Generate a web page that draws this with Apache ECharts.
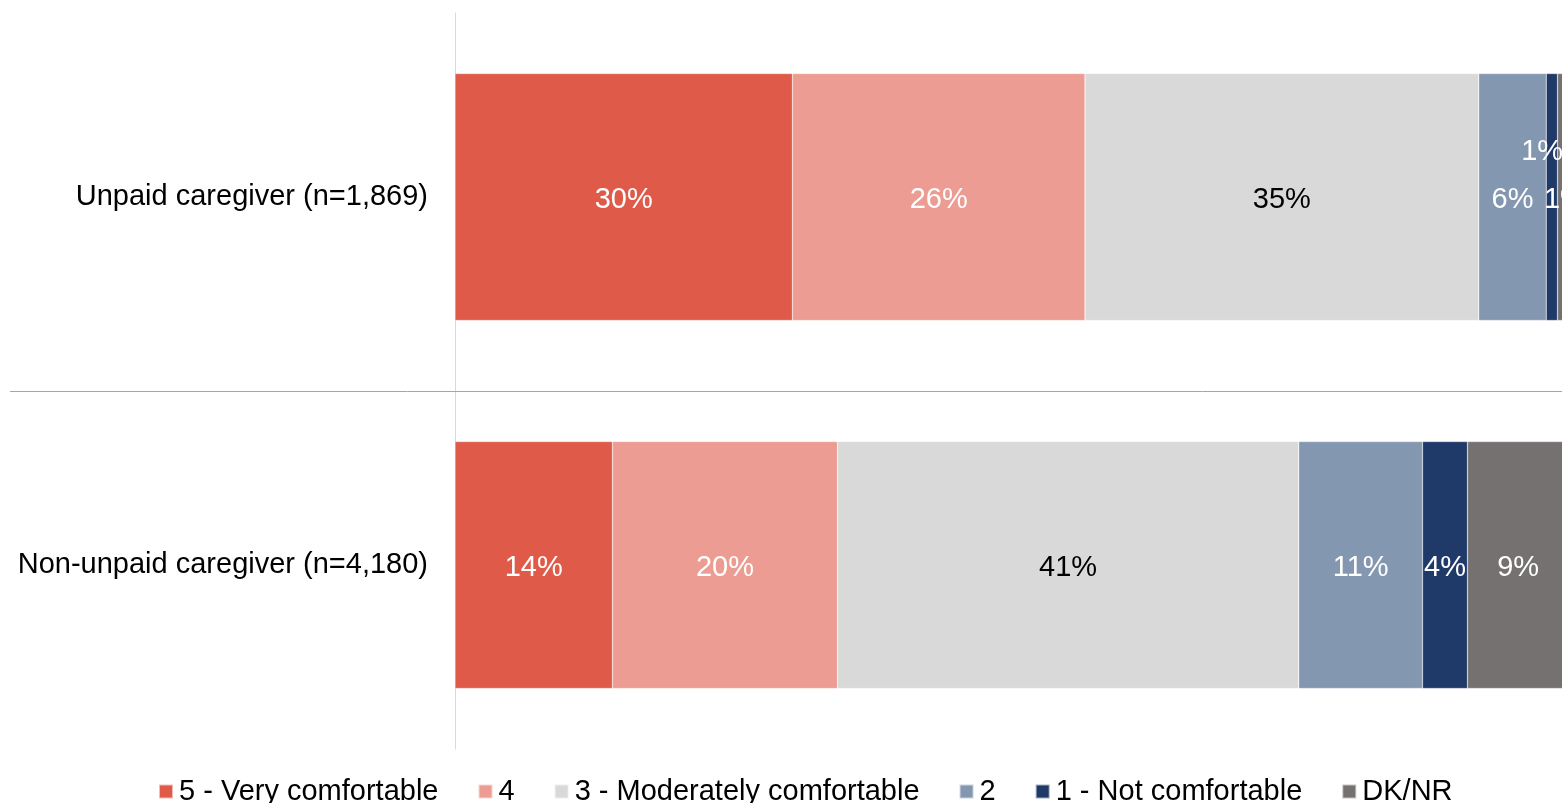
<!DOCTYPE html>
<html>
<head>
<meta charset="utf-8">
<script src="https://cdn.jsdelivr.net/npm/echarts@6/dist/echarts.min.js"></script>
<style>
  html, body { margin: 0; padding: 0; background: #fff; overflow: hidden; }
  #chart { width: 1600px; height: 803px; }
</style>
</head>
<body>
<div id="chart"></div>
<script>
// Comfort level by caregiver status (percent of respondents)
const categories = ['Unpaid caregiver (n=1,869)', 'Non-unpaid caregiver (n=4,180)'];
const seriesNames = ['5 - Very comfortable', '4', '3 - Moderately comfortable', '2', '1 - Not comfortable', 'DK/NR'];
const veryComfortable = [30, 14];
const four = [26, 20];
const moderately = [35, 41];
const two = [6, 11];
const notComfortable = [1, 4];
const dkNr = [1, 9];

const colors = ['#E05A4A', '#EC9C92', '#D9D9D9', '#8497B0', '#1F3968', '#767171'];
const labelColors = ['#fff', '#fff', '#000', '#fff', '#fff', '#fff'];
const values = [veryComfortable, four, moderately, two, notComfortable, dkNr];

// small segments in the first row carry shifted labels
const labelShift = {
  4: { 0: [13, 3] },
  5: { 0: [-21, -45] }
};

const chart = echarts.init(document.getElementById('chart'));
const FONT = 'Liberation Sans, Arial, sans-serif';
const FS = 29;

const series = seriesNames.map((name, i) => ({
  name,
  type: 'bar',
  stack: 'total',
  barWidth: 247,
  itemStyle: { color: colors[i], borderColor: 'rgba(255,255,255,0.6)', borderWidth: 0.5 },
  label: {
    show: true,
    position: 'inside',
    offset: [0, 3],
    color: labelColors[i],
    fontFamily: FONT,
    fontSize: FS,
    formatter: p => p.value + '%'
  },
  data: values[i].map((v, j) => {
    const shift = labelShift[i] && labelShift[i][j];
    return shift ? { value: v, label: { offset: shift } } : v;
  })
}));

chart.setOption({
  animation: false,
  color: colors,
  grid: { left: 455, top: 13, bottom: 54, width: 1125 },
  legend: {
    left: 153,
    top: 772,
    itemWidth: 14,
    itemHeight: 14,
    itemGap: 39,
    icon: 'rect',
    textStyle: { fontFamily: FONT, fontSize: FS, color: '#000', padding: [0, 0, 0, 1] },
    data: seriesNames
  },
  xAxis: {
    type: 'value',
    min: 0,
    max: 100,
    show: false
  },
  yAxis: {
    type: 'category',
    inverse: true,
    data: categories,
    axisLine: { show: true, lineStyle: { color: '#D9D9D9', width: 1 } },
    axisTick: { show: false },
    axisLabel: { fontFamily: FONT, fontSize: FS, color: '#000', margin: 27, padding: [7, 0, 0, 0] },
    splitLine: { show: false }
  },
  series
});

// divider between the two category bands, running across the label area
const y0 = chart.convertToPixel({ yAxisIndex: 0 }, categories[0]);
const y1 = chart.convertToPixel({ yAxisIndex: 0 }, categories[1]);
const midY = Math.round((y0 + y1) / 2) + 10.5;
chart.setOption({
  graphic: [{
    type: 'line',
    shape: { x1: 10, y1: midY, x2: 1600, y2: midY },
    style: { stroke: '#A6A6A6', lineWidth: 1 },
    z: 10
  }]
});
</script>
</body>
</html>
